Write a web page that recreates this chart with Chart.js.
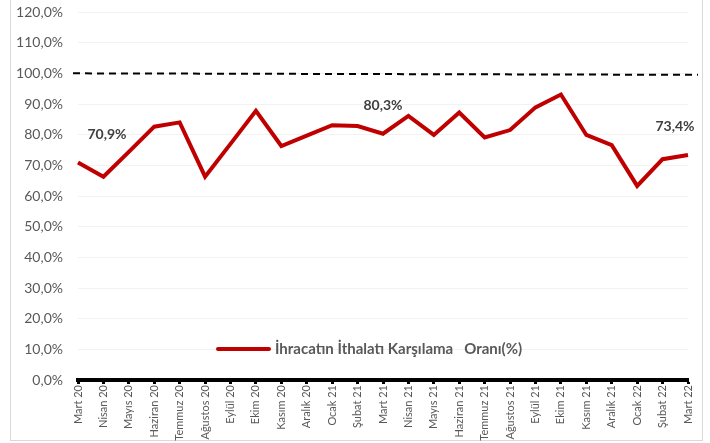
<!DOCTYPE html>
<html>
<head>
<meta charset="utf-8">
<script src="https://cdn.jsdelivr.net/npm/chart.js@4.4.1/dist/chart.umd.min.js"></script>
<style>
  html, body { margin: 0; padding: 0; background: #fff; }
  #frame { position: absolute; left: 10px; top: -1px; width: 691px; height: 440px; border: 1.5px solid #d9d9d9; }
  #wrap { position: absolute; left: 0; top: 0; width: 710px; height: 443px; }
</style>
</head>
<body>
<div id="frame"></div>
<div id="wrap"><canvas id="ratioChart"></canvas></div>
<script>
        // Data
        const months = ['Mart 20', 'Nisan 20', 'Mayıs 20', 'Haziran 20', 'Temmuz 20', 'Ağustos 20', 'Eylül 20', 'Ekim 20',
            'Kasım 20', 'Aralık 20', 'Ocak 21', 'Şubat 21', 'Mart 21', 'Nisan 21', 'Mayıs 21', 'Haziran 21',
            'Temmuz 21', 'Ağustos 21', 'Eylül 21', 'Ekim 21', 'Kasım 21', 'Aralık 21', 'Ocak 22', 'Şubat 22', 'Mart 22'];
        const coverageRatio = [70.9, 66.3, 74.4, 82.6, 84.0, 66.3, 77.0, 87.8, 76.3, 79.7, 83.1, 82.8, 80.3,
            86.1, 79.9, 87.2, 79.1, 81.5, 88.9, 93.1, 79.9, 76.6, 63.3, 72.0, 73.4];
        const labelledPoints = [0, 12, 24];
        const referenceLevel = 100;
        const seriesName = 'İhracatın İthalatı Karşılama   Oranı(%)';

        const fmt = v => v.toFixed(1).replace('.', ',') + '%';

        // Dashed 100% line
        const referenceLine = {
            id: 'referenceLine',
            afterDatasetsDraw(chart) {
                const { ctx, chartArea, scales } = chart;
                const y = scales.y.getPixelForValue(referenceLevel);
                ctx.save();
                ctx.strokeStyle = '#000';
                ctx.lineWidth = 2;
                ctx.setLineDash([7, 5]);
                ctx.beginPath();
                ctx.moveTo(chartArea.left - 5, y);
                ctx.lineTo(chartArea.right + 10, y + 1.5);
                ctx.stroke();
                ctx.restore();
            }
        };

        // Value labels on selected points
        const pointLabels = {
            id: 'pointLabels',
            afterDatasetsDraw(chart) {
                const { ctx } = chart;
                const meta = chart.getDatasetMeta(0);
                const shifts = { 0: 29, 12: 0, 24: -13 };
                ctx.save();
                ctx.font = 'bold 14px Lato';
                ctx.fillStyle = '#404040';
                ctx.textAlign = 'center';
                ctx.textBaseline = 'middle';
                labelledPoints.forEach(i => {
                    const p = meta.data[i];
                    ctx.fillText(fmt(coverageRatio[i]), p.x + shifts[i], p.y - 28);
                });
                ctx.restore();
            }
        };

        // Legend drawn inside plot
        const innerLegend = {
            id: 'innerLegend',
            afterDraw(chart) {
                const { ctx } = chart;
                const ds = chart.data.datasets[0];
                const y = 349;
                ctx.save();
                ctx.strokeStyle = ds.borderColor;
                ctx.lineWidth = 4;
                ctx.lineCap = 'round';
                ctx.beginPath();
                ctx.moveTo(218, y);
                ctx.lineTo(269, y);
                ctx.stroke();
                ctx.font = 'bold 15px Lato';
                ctx.fillStyle = '#595959';
                ctx.textBaseline = 'middle';
                ctx.fillText(ds.label, 275, y);
                ctx.restore();
            }
        };

        const ctx = document.getElementById('ratioChart').getContext('2d');
        new Chart(ctx, {
            type: 'line',
            data: {
                labels: months,
                datasets: [{
                    label: seriesName,
                    data: coverageRatio,
                    borderColor: '#C00000',
                    borderWidth: 4,
                    pointRadius: 0,
                    tension: 0,
                    fill: false
                }]
            },
            options: {
                responsive: true,
                maintainAspectRatio: false,
                animation: false,
                layout: { padding: { top: 12, right: 22, left: 0, bottom: 0 } },
                plugins: {
                    legend: { display: false },
                    tooltip: { enabled: false }
                },
                scales: {
                    x: {
                        offset: false,
                        grid: { drawOnChartArea: false, drawTicks: true, tickLength: 4, tickWidth: 3, tickColor: '#000' },
                        border: { display: true, color: '#000', width: 4 },
                        ticks: {
                            autoSkip: false,
                            maxRotation: 90,
                            minRotation: 90,
                            padding: 1,
                            color: '#595959',
                            font: { family: 'Lato', size: 11 }
                        },
                        afterFit(scale) { scale.height = 63; }
                    },
                    y: {
                        min: 0,
                        max: 120,
                        grid: { color: '#f2f2f2', lineWidth: 1, drawTicks: true, tickLength: 15, tickColor: 'rgba(0,0,0,0)' },
                        border: { display: false },
                        ticks: {
                            stepSize: 10,
                            padding: 0,
                            color: '#595959',
                            font: { family: 'Lato', size: 14 },
                            callback: v => fmt(v)
                        },
                        afterFit(scale) { scale.width = 78; }
                    }
                }
            },
            plugins: [referenceLine, pointLabels, innerLegend]
        });
</script>
</body>
</html>
